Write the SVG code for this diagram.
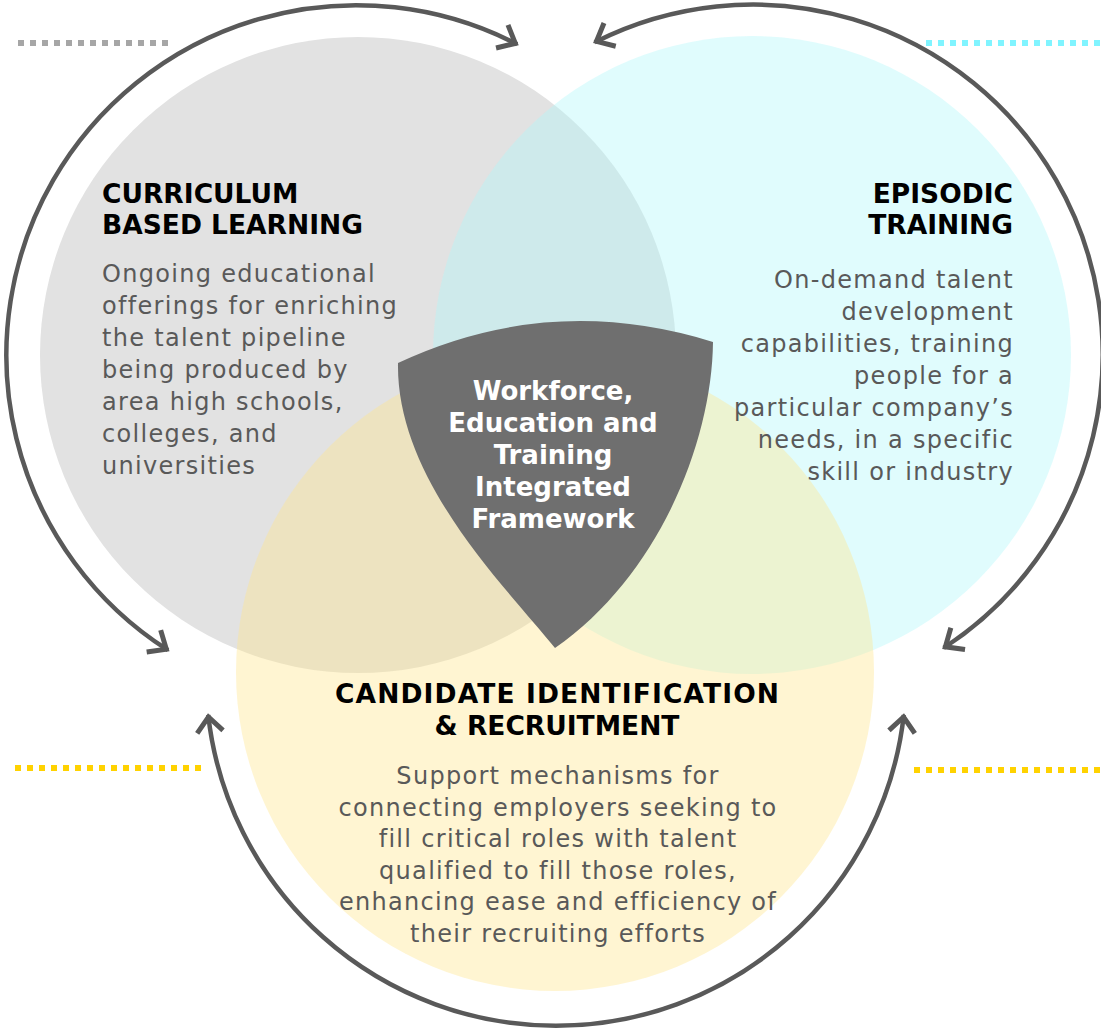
<svg xmlns="http://www.w3.org/2000/svg" width="1101" height="1031" viewBox="0 0 1101 1031">
  <style>
    .head { font-family: "DejaVu Sans", Verdana, sans-serif; font-weight: bold; font-size: 26.5px; fill: #000000; }
    .body { font-family: "DejaVu Sans", Verdana, sans-serif; font-size: 24px; letter-spacing: 1.3px; fill: #595959; }
    .core { font-family: "DejaVu Sans", Verdana, sans-serif; font-weight: bold; font-size: 26px; fill: #ffffff; text-anchor: middle; }
    .arc { fill: none; stroke: #595959; stroke-width: 4.5; marker-start: url(#ah); marker-end: url(#ah); }
    .dots { fill: none; stroke-width: 6; stroke-dasharray: 6 6; }
  </style>
  <defs>
    <marker id="ah" markerUnits="userSpaceOnUse" viewBox="-25 -20 30 40" markerWidth="30" markerHeight="40" refX="0" refY="0" orient="auto-start-reverse" overflow="visible">
      <path d="M-17,-13 L-2,0 L-17,13" fill="none" stroke="#595959" stroke-width="5"/>
    </marker>
  </defs>
  <rect width="1101" height="1031" fill="#ffffff"/>

  <g id="circle-curriculum">
    <circle cx="358" cy="355" r="318" fill="#e2e2e2"/>
  </g>
  <g id="circle-episodic">
    <circle cx="752" cy="355" r="319" fill="#b1f7fa" fill-opacity="0.4"/>
  </g>
  <g id="circle-candidate">
    <circle cx="555" cy="672" r="319" fill="#ffe68e" fill-opacity="0.4"/>
  </g>

  <g id="dotted-lines">
    <line class="dots" x1="18" y1="43" x2="171" y2="43" stroke="#a6a6a6"/>
    <line class="dots" x1="926" y1="43" x2="1101" y2="43" stroke="#80f4ff"/>
    <line class="dots" x1="15" y1="768" x2="205" y2="768" stroke="#ffd200"/>
    <line class="dots" x1="914" y1="770" x2="1101" y2="770" stroke="#ffd200"/>
  </g>

  <g id="connectors">
    <path class="arc" d="M168,650.2 A350,350 0 0 1 517.1,44.3"/>
    <path class="arc" d="M594.7,42.3 A350,350 0 0 1 943.7,647.9"/>
    <path class="arc" d="M208.2,715 A350,350 0 0 0 903.8,715"/>
  </g>

  <g id="node-core">
    <path d="M398,363 Q550.5,291.5 713,342 C712,440 660,575 555,648 C505,586 396,480 398,363 Z" fill="#6f6f6f"/>
    <text class="core" x="553" y="400">Workforce,</text>
    <text class="core" x="553" y="432">Education and</text>
    <text class="core" x="553" y="464">Training</text>
    <text class="core" x="553" y="496">Integrated</text>
    <text class="core" x="553" y="528">Framework</text>
  </g>

  <g id="node-curriculum-text">
    <text class="head" x="102" y="203">CURRICULUM</text>
    <text class="head" x="102" y="234">BASED LEARNING</text>
    <text class="body" x="102" y="282">Ongoing educational</text>
    <text class="body" x="102" y="314">offerings for enriching</text>
    <text class="body" x="102" y="346">the talent pipeline</text>
    <text class="body" x="102" y="378">being produced by</text>
    <text class="body" x="102" y="410">area high schools,</text>
    <text class="body" x="102" y="442">colleges, and</text>
    <text class="body" x="102" y="474">universities</text>
  </g>

  <g id="node-episodic-text" text-anchor="end">
    <text class="head" x="1013" y="203">EPISODIC</text>
    <text class="head" x="1013" y="234">TRAINING</text>
    <text class="body" x="1014" y="288">On-demand talent</text>
    <text class="body" x="1014" y="320">development</text>
    <text class="body" x="1014" y="352">capabilities, training</text>
    <text class="body" x="1014" y="384">people for a</text>
    <text class="body" x="1014" y="416">particular company’s</text>
    <text class="body" x="1014" y="448">needs, in a specific</text>
    <text class="body" x="1014" y="480">skill or industry</text>
  </g>

  <g id="node-candidate-text" text-anchor="middle">
    <text class="head" x="557" y="703" textLength="444" lengthAdjust="spacing">CANDIDATE IDENTIFICATION</text>
    <text class="head" x="557" y="735">&amp; RECRUITMENT</text>
    <text class="body" x="558" y="784">Support mechanisms for</text>
    <text class="body" x="558" y="816">connecting employers seeking to</text>
    <text class="body" x="558" y="847">fill critical roles with talent</text>
    <text class="body" x="558" y="879">qualified to fill those roles,</text>
    <text class="body" x="558" y="910">enhancing ease and efficiency of</text>
    <text class="body" x="558" y="942">their recruiting efforts</text>
  </g>
</svg>
